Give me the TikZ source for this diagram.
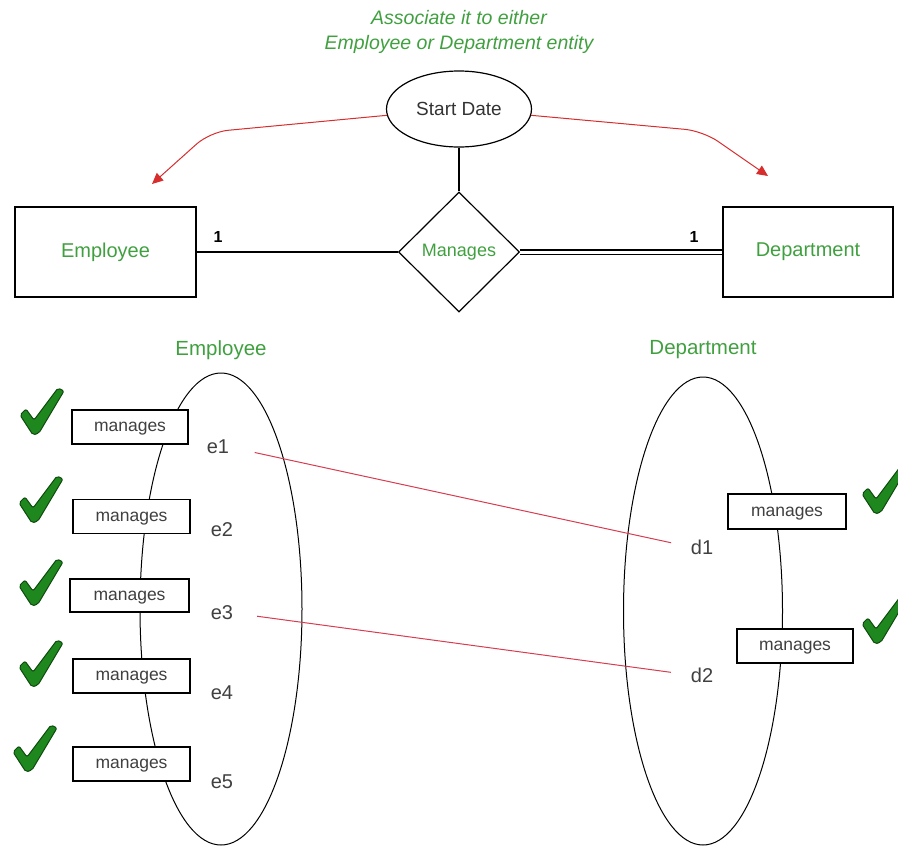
\documentclass[tikz,border=0pt]{standalone}
\usepackage{fontspec}
\setmainfont{Liberation Sans}
\usetikzlibrary{shapes.geometric,arrows.meta}
\definecolor{txtgreen}{RGB}{64,160,64}
\definecolor{tickfill}{RGB}{30,135,30}
\definecolor{tickline}{RGB}{15,75,15}
\definecolor{arrred}{RGB}{215,45,45}
\definecolor{linered}{RGB}{215,60,80}
\tikzset{
  entity/.style={draw, line width=1.2pt, minimum width=#1, minimum height=90pt, inner sep=0pt,
    font=\fontsize{20}{24}\selectfont, text=txtgreen},
  plain/.style={line width=1.2pt},
  mbox/.style={draw, line width=1.2pt, fill=white, minimum width=116pt, minimum height=34pt,
    inner sep=0pt, text depth=0pt, font=\fontsize{17.5}{20}\selectfont, text=black!75},
  setell/.style={draw, ellipse, line width=1pt, minimum width=162pt, minimum height=472pt, inner sep=0pt},
  elem/.style={font=\fontsize{20}{23}\selectfont, text=black!75, inner sep=0pt},
  glabel/.style={font=\fontsize{20.5}{23}\selectfont, text=txtgreen, inner sep=0pt},
  card/.style={font=\bfseries\fontsize{16}{18}\selectfont, inner sep=0pt},
  redarrow/.style={draw=arrred, line width=1pt, rounded corners=18pt,
    -{Triangle[length=11pt,width=10pt]}},
  redline/.style={draw=linered, line width=1pt},
  greentick/.pic={
    \filldraw[fill=tickfill, draw=tickline, line width=1pt, rounded corners=2pt]
      (-22,4) -- (-16,-2) -- (-8,9) -- (16,-23) -- (22,-20) -- (-3,22) -- (-9,24) -- cycle;
  }
}
\begin{document}
\begin{tikzpicture}[x=1pt, y=-1pt]
\useasboundingbox (0,0) rectangle (898,847);
\clip (0,0) rectangle (898,847);

% annotation
\node[font=\itshape\fontsize{19.5}{25}\selectfont, text=txtgreen, align=center, inner sep=0pt]
  (note) at (459,32) {Associate it to either\\Employee or Department entity};

% ER part
\node[draw, ellipse, line width=1.2pt, minimum width=145pt, minimum height=76pt, inner sep=0pt,
  font=\fontsize{19}{22}\selectfont, text=black!80] (sd) at (459,109) {Start Date};
\node[draw, diamond, line width=1.2pt, minimum width=121pt, minimum height=120pt, inner sep=0pt,
  font=\fontsize{18}{21}\selectfont, text=txtgreen] (rel) at (459,252) {Manages};
\node[entity=181pt] (emp) at (105.5,252) {Employee};
\node[entity=170pt] (dep) at (808,252) {Department};

\draw[plain] (sd.south) -- (rel.north);
\draw[plain] (emp.east) -- (rel.west);
\draw[line width=1.2pt, double, double distance=3pt] (rel.east) -- (dep.west);
\node[card] (c1) at (218,237) {1};
\node[card] (c2) at (694,237) {1};

% red arrows
\coordinate (la) at (152,184);
\coordinate (ra) at (768,176);
\draw[redarrow] (sd.185) -- (210,132) -- (la);
\draw[redarrow] (sd.355) -- (703,131) -- (ra);

% set diagrams
\node[glabel] (el) at (221,350) {Employee};
\node[glabel] (dl) at (703,350) {Department};
\node[setell] (eset) at (221,609) {};
\node[setell, minimum width=159pt, minimum height=468pt] (dset) at (703,611) {};

\node[elem] (e1) at (218,447) {e1};
\node[elem] (e2) at (222,530) {e2};
\node[elem] (e3) at (222,613) {e3};
\node[elem] (e4) at (222,693) {e4};
\node[elem] (e5) at (222,782) {e5};
\node[elem] (d1) at (702,547) {d1};
\node[elem] (d2) at (702,675) {d2};

\draw[redline, shorten <=26pt, shorten >=20pt] (e1.east) -- (d1.west);
\draw[redline, shorten <=24pt, shorten >=20pt] (e3.east) -- (d2.west);

\node[mbox] (m1) at (130,427) {manages};
\node[mbox, minimum width=117pt] (m2) at (131.5,516.5) {manages};
\node[mbox, minimum width=119pt, minimum height=33pt] (m3) at (129.5,595.5) {manages};
\node[mbox, minimum width=117pt] (m4) at (131.5,676) {manages};
\node[mbox, minimum width=117pt] (m5) at (131.5,764) {manages};
\node[mbox, minimum width=118pt, minimum height=35pt] (m6) at (787,511.5) {manages};
\node[mbox, minimum height=34pt] (m7) at (795,646) {manages};

\pic at (42,411) {greentick};
\pic at (41,499) {greentick};
\pic at (41,582) {greentick};
\pic at (41,663) {greentick};
\pic at (35,748) {greentick};
\pic at (884,490) {greentick};
\pic at (884,620) {greentick};
\end{tikzpicture}
\end{document}
